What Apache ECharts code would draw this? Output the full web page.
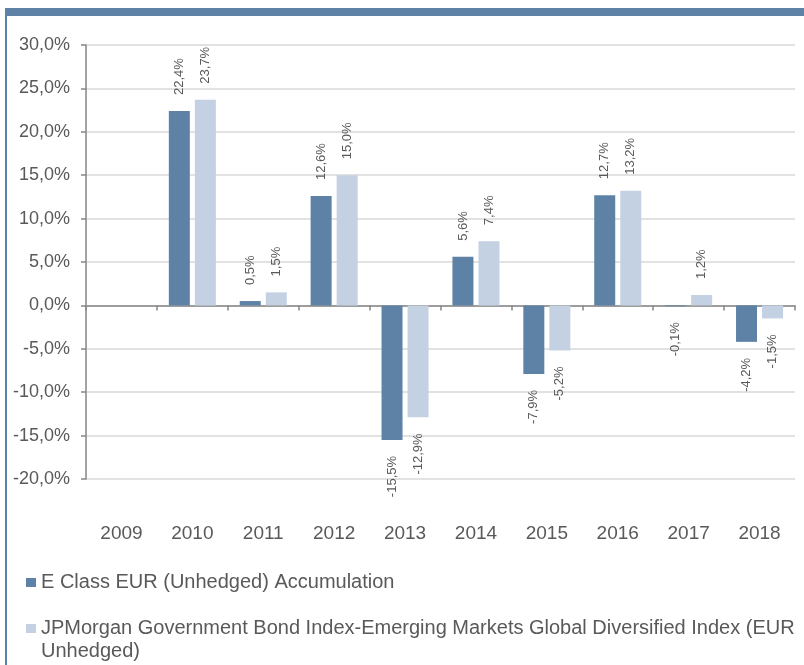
<!DOCTYPE html>
<html>
<head>
<meta charset="UTF-8">
<title>Calendar year returns</title>
<script src="https://cdn.jsdelivr.net/npm/echarts@6/dist/echarts.min.js"></script>
<style>
  html, body { margin: 0; padding: 0; background: #fff; }
  #chart { width: 804px; height: 665px; }
</style>
</head>
<body>
<div id="chart"></div>
<script>
// years on the x axis
var years = ['2009', '2010', '2011', '2012', '2013', '2014', '2015', '2016', '2017', '2018'];
// fund and index returns in % (no data for 2009)
var fundValues = [null, 22.4, 0.5, 12.6, -15.5, 5.6, -7.9, 12.7, -0.1, -4.2];
var indexValues = [null, 23.7, 1.5, 15.0, -12.9, 7.4, -5.2, 13.2, 1.2, -1.5];
var seriesNames = [
    'E Class EUR (Unhedged) Accumulation',
    'JPMorgan Government Bond Index-Emerging Markets Global Diversified Index (EUR Unhedged)'
];

var dark = '#5E82A6';
var light = '#C4D1E3';
var textColor = '#595959';
var font = "'Liberation Sans', Arial, sans-serif";

function pct(v) {
    return v.toFixed(1).replace('.', ',') + '%';
}

// negative bars get their label under the bar
function toItems(arr) {
    return arr.map(function (v) {
        if (v == null) return null;
        if (v < 0) return { value: v, label: { position: 'bottom', align: 'right' } };
        return { value: v };
    });
}

var barLabel = {
    show: true,
    position: 'top',
    rotate: 90,
    align: 'left',
    verticalAlign: 'middle',
    distance: 16,
    color: textColor,
    fontSize: 13,
    fontFamily: font,
    formatter: function (p) { return pct(p.value); }
};

var chart = echarts.init(document.getElementById('chart'));

var option = {
    backgroundColor: '#fff',
    animation: false,
    textStyle: { fontFamily: font },
    // frame: blue band on top, line on the left
    graphic: [
        { type: 'rect', shape: { x: 5, y: 8, width: 799, height: 8 }, style: { fill: dark } },
        { type: 'line', shape: { x1: 6, y1: 8, x2: 6, y2: 665 }, style: { stroke: dark, lineWidth: 2 } }
    ],
    grid: { left: 86, right: 9, top: 45, bottom: 186 },
    legend: [{
        data: [seriesNames[0]],
        left: 26,
        top: 571,
        padding: 0,
        itemWidth: 10,
        itemHeight: 9,
        itemGap: 5,
        icon: 'rect',
        textStyle: { color: textColor, fontSize: 20, lineHeight: 23, fontFamily: font }
    }, {
        data: [seriesNames[1]],
        left: 26,
        top: 594,
        padding: 0,
        itemWidth: 10,
        itemHeight: 9,
        icon: 'rect',
        // blank first line keeps the icon level with the first text line
        formatter: function () {
            return ' \nJPMorgan Government Bond Index-Emerging Markets Global Diversified Index (EUR\nUnhedged)';
        },
        textStyle: { color: textColor, fontSize: 20, fontFamily: font, lineHeight: 23 }
    }],
    xAxis: [{
        type: 'category',
        data: years,
        position: 'bottom',
        axisLine: { show: false, onZero: false },
        axisTick: { show: false },
        axisLabel: { color: textColor, fontSize: 19, margin: 45, fontFamily: font }
    }, {
        type: 'category',
        data: years,
        position: 'bottom',
        axisLine: { show: true, onZero: true, lineStyle: { color: '#868686', width: 1.5 } },
        axisTick: { show: true, length: 5, lineStyle: { color: '#868686', width: 1.5 } },
        axisLabel: { show: false }
    }],
    yAxis: {
        type: 'value',
        min: -20,
        max: 30,
        interval: 5,
        axisLine: { show: true, lineStyle: { color: '#868686', width: 1.5 } },
        axisTick: { show: true, length: 5, lineStyle: { color: '#868686', width: 1.5 } },
        axisLabel: { color: textColor, fontSize: 18, margin: 16, fontFamily: font, formatter: function (v) { return pct(v); } },
        splitLine: { lineStyle: { color: '#D9D9D9', width: 1.5 } }
    },
    series: [{
        name: seriesNames[0],
        type: 'bar',
        xAxisIndex: 0,
        barWidth: 21,
        barGap: '24%',
        itemStyle: { color: dark },
        label: barLabel,
        data: toItems(fundValues)
    }, {
        name: seriesNames[1],
        type: 'bar',
        xAxisIndex: 0,
        barWidth: 21,
        barGap: '24%',
        itemStyle: { color: light },
        label: barLabel,
        data: toItems(indexValues)
    }]
};

chart.setOption(option);
</script>
</body>
</html>
